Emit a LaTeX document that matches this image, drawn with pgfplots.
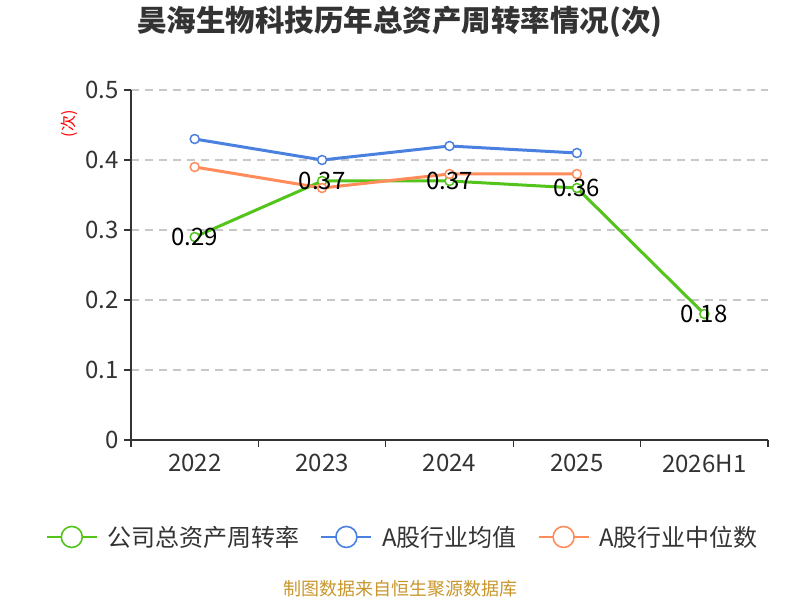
\documentclass[border=0pt]{standalone}
\usepackage{pgfplots}
\pgfplotsset{compat=1.18}
\usepackage{fontspec}
\setmainfont{Noto Sans CJK SC}
\definecolor{cgreen}{HTML}{52C41A}
\definecolor{cblue}{HTML}{4A80E0}
\definecolor{corange}{HTML}{FF8C5A}
\definecolor{axisgray}{HTML}{333333}
\definecolor{gridgray}{HTML}{C8C8C8}
\definecolor{foot}{HTML}{C8962B}
\begin{document}
\begin{tikzpicture}[x=1pt,y=1pt]
\useasboundingbox (0,0) rectangle (800,600);
\node[font=\fontsize{29.5}{33}\selectfont\bfseries, text=axisgray] at (400,578) {昊海生物科技历年总资产周转率情况(次)};
\node[font=\fontsize{16}{18}\selectfont, text=red, rotate=90] at (69,476) {(次)};
\node[font=\fontsize{18}{20}\selectfont, text=foot] at (400,11) {制图数据来自恒生聚源数据库};
\begin{axis}[
  at={(131pt,160pt)}, anchor=south west,
  scale only axis, width=637pt, height=350pt,
  xmin=-0.5, xmax=4.5, ymin=0, ymax=0.5,
  axis lines*=left,
  axis line style={-, color=axisgray, line width=1.3pt},
  xtick={-0.5,0.5,1.5,2.5,3.5,4.5},
  xticklabels={},
  extra x ticks={0,1,2,3,4},
  extra x tick labels={2022,2023,2024,2025,2026H1},
  extra x tick style={tick style={draw=none}},
  ytick={0,0.1,0.2,0.3,0.4,0.5},
  yticklabels={0,0.1,0.2,0.3,0.4,0.5},
  tick align=outside,
  major tick length=7pt,
  tick style={color=axisgray, line width=1.3pt},
  ticklabel style={font=\fontsize{24}{27}\selectfont, text=axisgray},
  xticklabel style={yshift=-4pt},
  yticklabel style={xshift=-2pt},
  ymajorgrids,
  grid style={dash pattern=on 8pt off 6pt, color=gridgray, line width=1.2pt},
  clip=false,
  legend columns=3,
  legend style={at={(0.4270,-0.277)}, anchor=center, draw=none, fill=none,
    font=\fontsize{24}{27}\selectfont, text=axisgray,
    /tikz/every odd column/.append style={column sep=8pt},
    /tikz/every even column/.append style={column sep=19pt}},
  legend image code/.code={
    \draw[#1, line width=1.6pt, mark=none] (0pt,0pt) -- (50pt,0pt);
    \draw[#1, line width=1.6pt, mark=none, fill=white] (25pt,0pt) circle (10.5pt);
  },
]
\addplot[color=cgreen, line width=3pt, mark=*, mark size=4.5pt,
  mark options={fill=white, line width=1.5pt}]
  coordinates {(0,0.29) (1,0.37) (2,0.37) (3,0.36) (4,0.18)};
\addlegendentry{公司总资产周转率}
\addplot[color=cblue, line width=3pt, mark=*, mark size=4.5pt,
  mark options={fill=white, line width=1.5pt}]
  coordinates {(0,0.43) (1,0.40) (2,0.42) (3,0.41)};
\addlegendentry{A股行业均值}
\addplot[color=corange, line width=3pt, mark=*, mark size=4.5pt,
  mark options={fill=white, line width=1.5pt}]
  coordinates {(0,0.39) (1,0.36) (2,0.38) (3,0.38)};
\addlegendentry{A股行业中位数}
\addplot[draw=none, mark=none, forget plot,
  point meta=explicit symbolic,
  nodes near coords,
  nodes near coords style={anchor=center, text=black, font=\fontsize{24}{27}\selectfont}]
  coordinates {(0,0.29)[0.29] (1,0.37)[0.37] (2,0.37)[0.37] (3,0.36)[0.36] (4,0.18)[0.18]};
\end{axis}
\end{tikzpicture}
\end{document}
